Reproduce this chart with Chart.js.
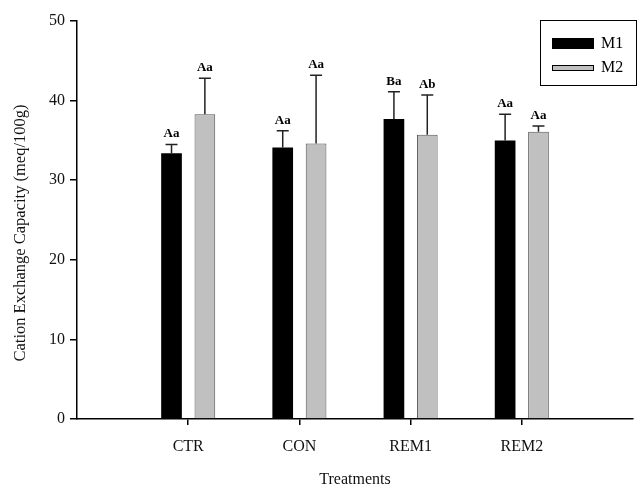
<!DOCTYPE html>
<html>
<head>
<meta charset="utf-8">
<script src="https://cdn.jsdelivr.net/npm/chart.js@4.4.0/dist/chart.umd.min.js"></script>
<style>
  html, body { margin: 0; padding: 0; background: #fff; }
  #wrap { width: 638px; height: 489px; }
</style>
</head>
<body>
<div id="wrap"><canvas id="myChart"></canvas></div>
<script>
// empty slots at both ends keep the spacing of the original axis
var treatments = ['', 'CTR', 'CON', 'REM1', 'REM2', ''];

var m1Values = [null, 33.4, 34.1, 37.7, 35.0, null];
var m1Errors = [null, 1.1, 2.1, 3.4, 3.3, null];
var m1Letters = ['', 'Aa', 'Aa', 'Ba', 'Aa', ''];

var m2Values = [null, 38.3, 34.6, 35.7, 36.1, null];
var m2Errors = [null, 4.5, 8.6, 5.0, 0.7, null];
var m2Letters = ['', 'Aa', 'Aa', 'Ab', 'Aa', ''];

var yTicks = [0, 10, 20, 30, 40, 50];
var yTitle = 'Cation Exchange Capacity (meq/100g)';

var serif = "'Liberation Serif', 'DejaVu Serif', serif";

// upper error bars + significance letters
var errorBars = {
	id: 'errorBars',
	afterDatasetsDraw: function(chart) {
		var ctx = chart.ctx;
		var yScale = chart.scales.y;
		chart.data.datasets.forEach(function(ds, i) {
			var meta = chart.getDatasetMeta(i);
			meta.data.forEach(function(bar, j) {
				if (ds.data[j] == null) return;
				var yTop = yScale.getPixelForValue(ds.data[j] + ds.errors[j]);
				var yBar = yScale.getPixelForValue(ds.data[j]);
				ctx.save();
				ctx.strokeStyle = '#222';
				ctx.lineWidth = 1.5;
				ctx.beginPath();
				ctx.moveTo(bar.x, yBar);
				ctx.lineTo(bar.x, yTop);
				ctx.moveTo(bar.x - 6, yTop);
				ctx.lineTo(bar.x + 6, yTop);
				ctx.stroke();
				ctx.fillStyle = '#000';
				ctx.font = 'bold 13px ' + serif;
				ctx.textAlign = 'center';
				ctx.textBaseline = 'alphabetic';
				ctx.fillText(ds.letters[j], bar.x, yTop - 7);
				ctx.restore();
			});
		});
	}
};

// boxed legend in the top right corner, plus the y title (sits a bit low in the original)
var boxLegend = {
	id: 'boxLegend',
	afterDraw: function(chart) {
		var ctx = chart.ctx;
		ctx.save();
		ctx.strokeStyle = '#000';
		ctx.lineWidth = 1;
		ctx.strokeRect(540.5, 20.5, 96, 65);
		var sw = [[552, 38, 42, 11], [552, 65, 42, 6]];
		chart.data.datasets.forEach(function(ds, i) {
			ctx.fillStyle = ds.backgroundColor;
			ctx.fillRect(sw[i][0], sw[i][1], sw[i][2], sw[i][3]);
			ctx.strokeStyle = '#000';
			ctx.strokeRect(sw[i][0] + 0.5, sw[i][1] + 0.5, sw[i][2] - 1, sw[i][3] - 1);
			ctx.fillStyle = '#000';
			ctx.font = '16px ' + serif;
			ctx.textAlign = 'left';
			ctx.textBaseline = 'middle';
			ctx.fillText(ds.label, 601, i == 0 ? 44 : 68);
		});

		ctx.translate(21, 233);
		ctx.rotate(-Math.PI / 2);
		ctx.fillStyle = '#111';
		ctx.font = '16.5px ' + serif;
		ctx.textAlign = 'center';
		ctx.textBaseline = 'middle';
		ctx.fillText(yTitle, 0, 0);
		ctx.restore();
	}
};

var ctx = document.getElementById('myChart').getContext('2d');

var myChart = new Chart(ctx, {
	type: 'bar',
	data: {
		labels: treatments,
		datasets: [{
			label: 'M1',
			data: m1Values,
			errors: m1Errors,
			letters: m1Letters,
			backgroundColor: '#000000',
			borderColor: '#000000',
			borderWidth: 0
		}, {
			label: 'M2',
			data: m2Values,
			errors: m2Errors,
			letters: m2Letters,
			backgroundColor: '#c0c0c0',
			borderColor: '#555555',
			borderWidth: 1
		}]
	},
	options: {
		responsive: true,
		maintainAspectRatio: false,
		animation: false,
		categoryPercentage: 0.6,
		barPercentage: 0.62,
		layout: { padding: { top: 21, right: 5, left: 0, bottom: 0 } },
		plugins: {
			legend: { display: false },
			tooltip: { enabled: false }
		},
		scales: {
			x: {
				offset: false,
				grid: {
					offset: false,
					drawOnChartArea: false,
					tickLength: 6,
					lineWidth: 1.5,
					color: function(c) {
						return (c.index == 0 || c.index == treatments.length - 1) ? 'rgba(0,0,0,0)' : '#000';
					}
				},
				border: { color: '#000', width: 1.5 },
				ticks: {
					color: '#111',
					padding: 12,
					maxRotation: 0,
					autoSkip: false,
					font: { family: serif, size: 16 }
				},
				title: {
					display: true,
					text: 'Treatments',
					color: '#111',
					padding: { top: 0, bottom: 0 },
					font: { family: serif, size: 16 }
				},
				afterFit: function(scale) {
					scale.height = 70;
					scale.paddingRight = 0;
					scale.paddingLeft = 0;
				}
			},
			y: {
				min: 0,
				max: 50,
				afterBuildTicks: function(scale) {
					scale.ticks = yTicks.map(function(v) { return { value: v }; });
				},
				grid: {
					drawOnChartArea: false,
					tickLength: 7,
					lineWidth: 1.5,
					color: '#000'
				},
				border: { color: '#000', width: 1.5 },
				ticks: {
					color: '#111',
					padding: 5,
					font: { family: serif, size: 16 }
				},
				afterFit: function(scale) { scale.width = 77; }
			}
		}
	},
	plugins: [errorBars, boxLegend]
});
</script>
</body>
</html>
